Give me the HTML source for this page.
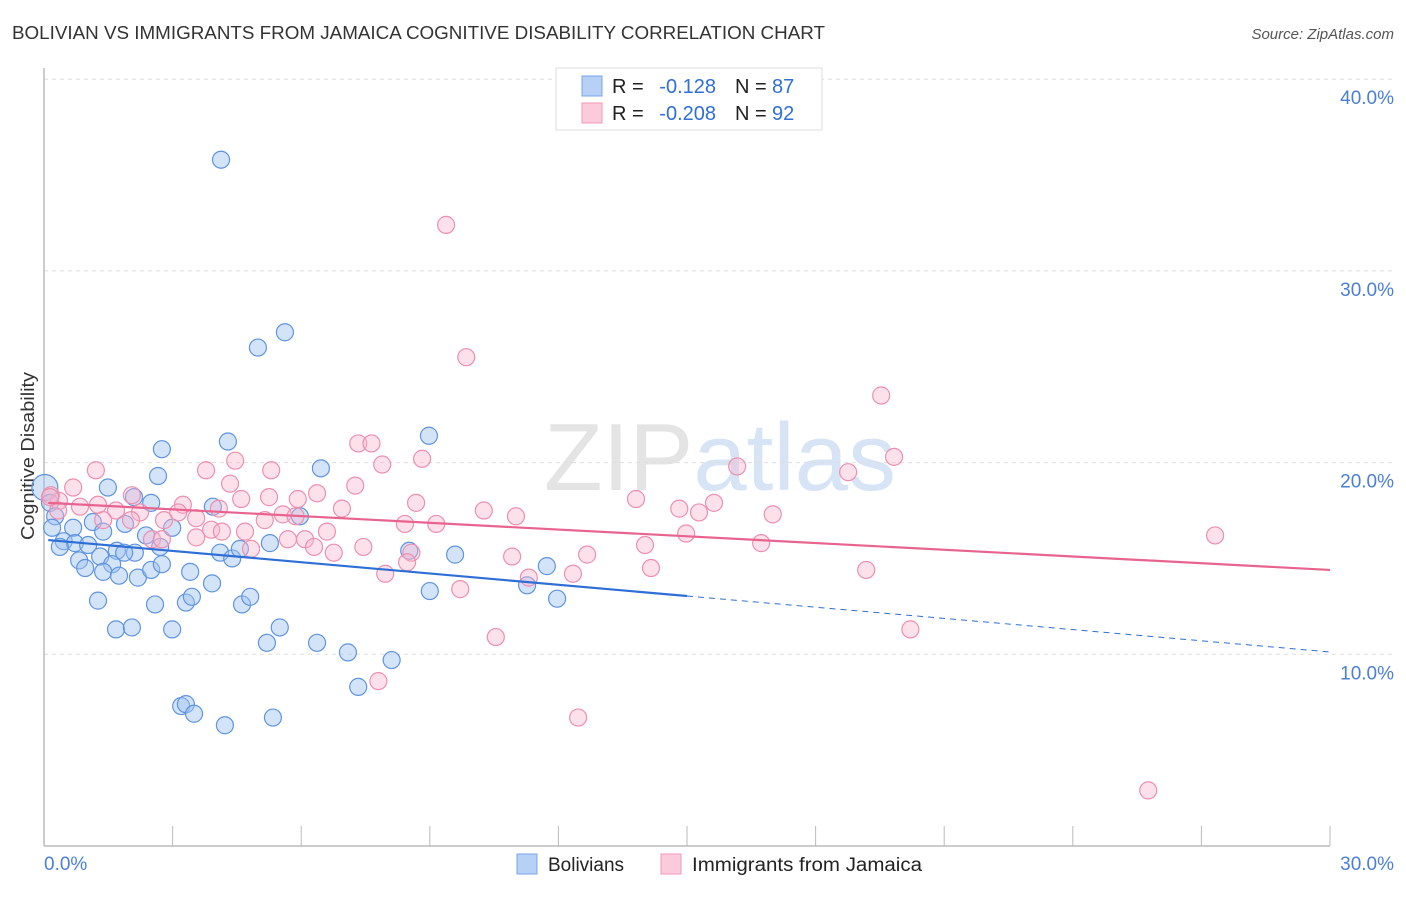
<!DOCTYPE html>
<html><head><meta charset="utf-8"><style>
body{margin:0;background:#fff;font-family:"Liberation Sans",sans-serif;}
svg text{font-family:"Liberation Sans",sans-serif;}
</style></head><body>
<svg width="1406" height="892" xmlns="http://www.w3.org/2000/svg" id="chart">
<text x="12" y="39" font-size="18" fill="#333" textLength="813" lengthAdjust="spacingAndGlyphs">BOLIVIAN VS IMMIGRANTS FROM JAMAICA COGNITIVE DISABILITY CORRELATION CHART</text>
<text x="1394" y="39" font-size="15" fill="#555" text-anchor="end" font-style="italic">Source: ZipAtlas.com</text>
<text x="720" y="490" font-size="96" fill="#e4e4e4" text-anchor="middle" font-family="Liberation Serif">ZIP<tspan fill="#d6e4f5" font-family="Liberation Sans">atlas</tspan></text>
<g id="grid"></g>
<line x1="44" y1="68" x2="44" y2="846" stroke="#bbb" stroke-width="1.5"/>
<line x1="44" y1="846" x2="1330" y2="846" stroke="#bbb" stroke-width="1.5"/>
<text transform="translate(34,456) rotate(-90)" font-size="18" fill="#333" text-anchor="middle" textLength="168" lengthAdjust="spacingAndGlyphs">Cognitive Disability</text>
<text x="44" y="870" font-size="19" fill="#4a7fd4">0.0%</text>
<text x="1394" y="870" font-size="19" fill="#4a7fd4" text-anchor="end">30.0%</text>
<g id="pts"></g>
<g id="lines"></g>
<g>
<rect x="556" y="68" width="266" height="62" fill="#fff" stroke="#ddd"/>
<rect x="582" y="76" width="20" height="20" fill="#b7d0f5" stroke="#7aa5e6"/>
<rect x="582" y="103" width="20" height="20" fill="#fbcadb" stroke="#f09ab8"/>
<text x="612" y="93" font-size="20" fill="#222">R =</text>
<text x="716" y="93" font-size="20" fill="#2f6fd6" text-anchor="end">-0.128</text>
<text x="735" y="93" font-size="20" fill="#222">N =</text>
<text x="772" y="93" font-size="20" fill="#2f6fd6">87</text>
<text x="612" y="120" font-size="20" fill="#222">R =</text>
<text x="716" y="120" font-size="20" fill="#2f6fd6" text-anchor="end">-0.208</text>
<text x="735" y="120" font-size="20" fill="#222">N =</text>
<text x="772" y="120" font-size="20" fill="#2f6fd6">92</text>
</g>
<g>
<rect x="517" y="854" width="20" height="20" fill="#b7d0f5" stroke="#7aa5e6"/>
<text x="548" y="871" font-size="19" fill="#222">Bolivians</text>
<rect x="661" y="854" width="20" height="20" fill="#fbcadb" stroke="#f09ab8"/>
<text x="692" y="871" font-size="19" fill="#222" textLength="230" lengthAdjust="spacingAndGlyphs">Immigrants from Jamaica</text>
</g>
</svg>
<script>
const yTicks=[10,20,30,40];
const yTickLabels=["10.0%","20.0%","30.0%","40.0%"];
const xTicks=[0,3,6,9,12,15,18,21,24,27,30];
const blueX=[4.13,5.62,4.99,8.98,4.29,2.75,6.46,2.66,1.49,2.10,2.50,3.94,0.02,0.14,0.26,1.14,5.97,0.19,0.68,1.38,1.89,2.99,0.46,0.72,0.37,1.03,2.38,2.71,1.70,2.12,0.82,1.31,1.87,0.96,1.59,1.38,1.75,2.19,2.50,2.75,3.41,4.11,4.39,4.57,5.27,3.92,1.26,2.59,3.31,3.45,4.62,4.81,1.68,2.05,2.99,5.50,5.20,6.37,7.09,8.11,7.33,3.20,3.31,3.50,4.22,5.34,8.52,9.59,9.00,11.73,11.27,11.97];
const blueY=[35.8,26.8,26.0,21.4,21.1,20.7,19.7,19.3,18.7,18.2,17.9,17.7,18.7,17.9,17.2,16.9,17.2,16.6,16.6,16.4,16.8,16.6,15.9,15.8,15.6,15.7,16.2,15.6,15.4,15.3,14.9,15.1,15.3,14.5,14.7,14.3,14.1,14.0,14.4,14.7,14.3,15.3,15.0,15.5,15.8,13.7,12.8,12.6,12.7,13.0,12.6,13.0,11.3,11.4,11.3,11.4,10.6,10.6,10.1,9.7,8.3,7.3,7.4,6.9,6.3,6.7,15.4,15.2,13.3,14.6,13.6,12.9];
const pinkX=[9.38,9.85,19.53,19.83,7.33,7.64,16.17,18.76,1.21,3.78,4.46,8.82,7.89,5.30,4.34,7.26,0.68,2.05,3.24,4.60,5.25,5.92,6.37,8.68,13.81,15.63,14.82,15.28,17.00,10.26,11.01,6.95,5.57,5.87,4.08,3.55,3.13,2.24,1.68,0.84,0.35,0.16,0.33,1.26,1.38,2.03,2.80,5.15,3.90,4.69,6.60,8.42,9.15,14.98,27.32,2.52,2.75,3.55,4.15,5.69,6.09,6.30,4.83,7.45,6.76,8.57,14.02,16.73,10.92,12.67,8.47,7.96,11.31,12.34,14.16,19.18,9.71,10.54,20.21,7.80,12.46,25.76,0.14];
const pinkY=[32.4,25.5,23.5,20.3,21.0,21.0,19.8,19.5,19.6,19.6,20.1,20.2,19.9,19.6,18.9,18.8,18.7,18.3,17.8,18.1,18.2,18.1,18.4,17.9,18.1,17.9,17.6,17.4,17.3,17.5,17.2,17.6,17.3,17.2,17.6,17.1,17.4,17.4,17.5,17.7,18.0,18.3,17.5,17.8,17.0,17.0,17.0,17.0,16.5,16.4,16.4,16.8,16.8,16.3,16.2,16.0,16.0,16.1,16.4,16.0,16.0,15.6,15.5,15.6,15.3,15.3,15.7,15.8,15.1,15.2,14.8,14.2,14.0,14.2,14.5,14.4,13.4,10.9,11.3,8.6,6.7,2.9,18.2];
const blueTrend=[15.96,13.04,10.12]; // at x=0,15,30
const pinkTrend=[17.9,14.4]; // at x=0,30
const NS="http://www.w3.org/2000/svg";
function sx(v){return 44+v/30*1286;}
function sy(v){return 846-v/10*191.7;}
function mk(t,a,p){const e=document.createElementNS(NS,t);for(const k in a)e.setAttribute(k,a[k]);p.appendChild(e);return e;}
const grid=document.getElementById('grid');
yTicks.forEach((t,i)=>{
 const l=mk('line',{x1:44,x2:1394,y1:sy(t),y2:sy(t),stroke:'#ddd','stroke-dasharray':'4,4'},grid);
 
 
 const tx=mk('text',{x:1394,y:sy(t)+25,'font-size':19,fill:'#4a7fd4','text-anchor':'end'},grid);
 tx.textContent=yTickLabels[i];
 
 
});
xTicks.forEach(t=>{
 const l=mk('line',{x1:sx(t),x2:sx(t),y1:826,y2:846,stroke:'#bbb'},grid);
 
 
});
const pts=document.getElementById('pts');
blueX.forEach((x,i)=>{
 const c=mk('circle',{cx:sx(x),cy:sy(blueY[i]),r:(x<0.1?13:8.5),fill:'rgba(160,195,240,0.45)',stroke:'#5f94e0','stroke-width':1.2},pts);
 
 
});
pinkX.forEach((x,i)=>{
 const c=mk('circle',{cx:sx(x),cy:sy(pinkY[i]),r:8.5,fill:'rgba(248,180,205,0.4)',stroke:'#ee8fb0','stroke-width':1.2},pts);
 
 
});
const lines=document.getElementById('lines');
let b1=mk('line',{x1:sx(0.1),y1:sy(blueTrend[0]),x2:sx(15),y2:sy(blueTrend[1]),stroke:'#2d6fd6','stroke-width':2.2},lines);


let b2=mk('line',{x1:sx(15),y1:sy(blueTrend[1]),x2:sx(30),y2:sy(blueTrend[2]),stroke:'#2d6fd6','stroke-width':1,'stroke-dasharray':'6,5'},lines);


let p1=mk('line',{x1:sx(0.1),y1:sy(pinkTrend[0]),x2:sx(30),y2:sy(pinkTrend[1]),stroke:'#e8648f','stroke-width':2.2},lines);


</script>
</body></html>
